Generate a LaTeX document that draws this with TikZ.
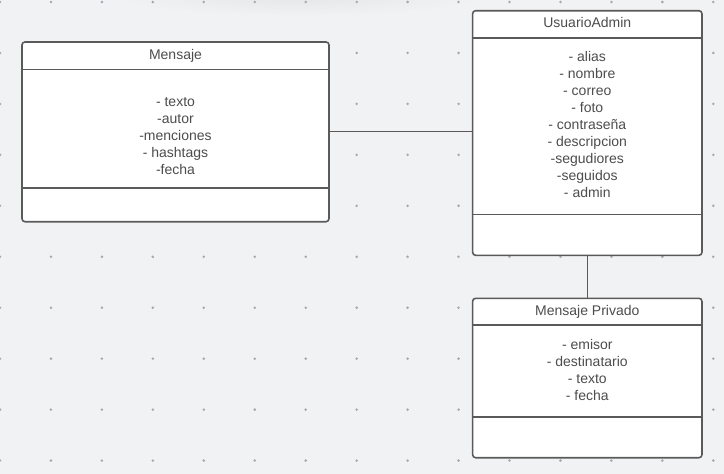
\documentclass[tikz,border=0pt]{standalone}
\usepackage{fontspec}
\setmainfont{Liberation Sans}
\usetikzlibrary{positioning}
\definecolor{canvas}{HTML}{F1F2F4}
\definecolor{shadowgray}{HTML}{E4E5E7}
\definecolor{griddot}{HTML}{A5A8AD}
\definecolor{boxline}{HTML}{5A5A5A}
\definecolor{boxtext}{HTML}{4D4D4D}
\tikzset{
  classbox/.style={draw=boxline, fill=white, line width=1.6pt, rounded corners=3pt, inner sep=0pt, outer sep=0pt},
  classtitle/.style={text=boxtext, font=\fontsize{14}{17}\selectfont, anchor=base, inner sep=0pt},
  classattr/.style={text=boxtext, font=\fontsize{14}{17}\selectfont, align=center, inner sep=0pt},
  divider/.style={draw=boxline, line width=1.6pt},
  assoc/.style={draw=boxline, line width=1pt}
}

\begin{document}
\begin{tikzpicture}[x=1pt, y=-1pt]
% Canvas
    \fill[canvas] (0,0) rectangle (724,474);
    \useasboundingbox (0,0) rectangle (724,474);
    \begin{scope}
      \clip (0,0) rectangle (724,474);
      \shade[inner color=shadowgray, outer color=canvas] (300,-6) ellipse[x radius=190pt, y radius=22pt];
    \end{scope}
% Dot grid
    \foreach \gx in {0,...,14}
      \foreach \gy in {0,...,9}
        \fill[griddot] (\gx*50.95, 2+\gy*50.95) circle[radius=1.4pt];
% Mensaje
    \node[classbox, minimum width=307pt, minimum height=179.7pt] (mensaje) at (175.5,131.85) {};
    \draw[divider] ([yshift=-27.3pt]mensaje.north west) -- ([yshift=-27.3pt]mensaje.north east);
    \draw[divider] ([yshift=34pt]mensaje.south west) -- ([yshift=34pt]mensaje.south east);
    \node[classtitle] (mensajetitle) at (175.5,59.3) {Mensaje};
    \node[classattr] (mensajeattr) at (175.5,136) {- texto\\-autor\\-menciones\\- hashtags\\-fecha};
% UsuarioAdmin
    \node[classbox, minimum width=229.3pt, minimum height=244.6pt] (usuario) at (587.3,133) {};
    \draw[divider] ([yshift=-27pt]usuario.north west) -- ([yshift=-27pt]usuario.north east);
    \draw[divider] ([yshift=41pt]usuario.south west) -- ([yshift=41pt]usuario.south east);
    \node[classtitle] (usuariotitle) at (587.3,27.3) {UsuarioAdmin};
    \node[classattr] (usuarioattr) at (587.3,124.5) {- alias\\- nombre\\- correo\\- foto\\- contraseña\\- descripcion\\-segudiores\\-seguidos\\- admin};
% Mensaje Privado
    \node[classbox, minimum width=229.3pt, minimum height=159.4pt] (privado) at (587.3,378) {};
    \draw[divider] ([yshift=-26.7pt]privado.north west) -- ([yshift=-26.7pt]privado.north east);
    \draw[divider] ([yshift=41pt]privado.south west) -- ([yshift=41pt]privado.south east);
    \node[classtitle] (privadotitle) at (587.3,315) {Mensaje Privado};
    \node[classattr] (privadoattr) at (587.3,369.5) {- emisor\\- destinatario\\- texto\\- fecha};
% Associations
    \draw[assoc] (mensaje.east) -- (mensaje.east -| usuario.west);
    \draw[assoc] (usuario.south) -- (privado.north);
\end{tikzpicture}
\end{document}
